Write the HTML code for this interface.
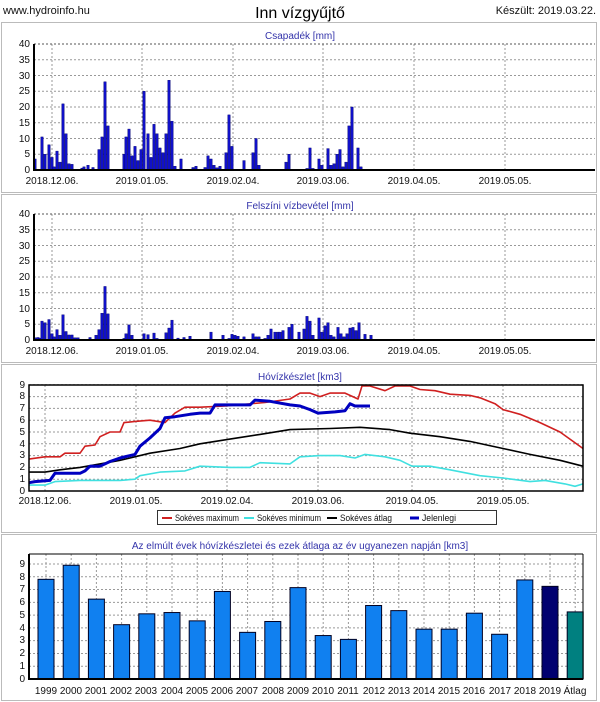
<!DOCTYPE html>
<html><head><meta charset="utf-8"><style>
html,body{margin:0;padding:0;background:#fff;}
svg{display:block;font-family:"Liberation Sans",Arial,sans-serif;}
.t{font-size:10px;fill:#111;}
.l{font-size:9px;fill:#111;}
.ct{font-size:10px;fill:#3333aa;text-anchor:middle;}
.r{text-anchor:end;}
.m{text-anchor:middle;}
</style></head><body>
<svg id="s" width="600" height="702" viewBox="0 0 600 702" xmlns="http://www.w3.org/2000/svg">
<rect width="600" height="702" fill="#fff"/>
<g fill="none" stroke="#bbb"><rect x="1.5" y="22.5" width="595" height="170"/><rect x="1.5" y="194.5" width="595" height="168"/><rect x="1.5" y="364.5" width="595" height="168"/><rect x="1.5" y="534.5" width="595" height="166"/></g>
<text x="3" y="14" style="font-size:11px" fill="#111">www.hydroinfo.hu</text>
<text x="300" y="18" class="m" style="font-size:16px" fill="#000">Inn vízgyűjtő</text>
<text x="596" y="14" class="r" style="font-size:11px" fill="#111">Készült: 2019.03.22.</text>
<text x="300" y="39" class="ct">Csapadék [mm]</text>
<text x="300" y="209" class="ct">Felszíni vízbevétel [mm]</text>
<text x="300" y="380" class="ct">Hóvízkészlet [km3]</text>
<text x="300" y="549" class="ct">Az elmúlt évek hóvízkészletei és ezek átlaga az év ugyanezen napján [km3]</text>
<g id="g"></g>
<g class="t r">
<text x="30" y="173">0</text><text x="30" y="157">5</text><text x="30" y="142">10</text><text x="30" y="126">15</text><text x="30" y="110">20</text><text x="30" y="94">25</text><text x="30" y="79">30</text><text x="30" y="63">35</text><text x="30" y="47">40</text>
<text x="30" y="343">0</text><text x="30" y="327">5</text><text x="30" y="312">10</text><text x="30" y="296">15</text><text x="30" y="280">20</text><text x="30" y="264">25</text><text x="30" y="249">30</text><text x="30" y="233">35</text><text x="30" y="217">40</text>
<text x="25" y="494">0</text><text x="25" y="482">1</text><text x="25" y="470">2</text><text x="25" y="458">3</text><text x="25" y="447">4</text><text x="25" y="435">5</text><text x="25" y="423">6</text><text x="25" y="411">7</text><text x="25" y="399">8</text><text x="25" y="388">9</text>
<text x="25" y="682">0</text><text x="25" y="669">1</text><text x="25" y="656">2</text><text x="25" y="643">3</text><text x="25" y="631">4</text><text x="25" y="618">5</text><text x="25" y="605">6</text><text x="25" y="592">7</text><text x="25" y="580">8</text><text x="25" y="567">9</text>
</g>
<g class="t m">
<text x="52" y="184">2018.12.06.</text><text x="142" y="184">2019.01.05.</text><text x="233" y="184">2019.02.04.</text><text x="323" y="184">2019.03.06.</text><text x="414" y="184">2019.04.05.</text><text x="505" y="184">2019.05.05.</text>
<text x="52" y="354">2018.12.06.</text><text x="142" y="354">2019.01.05.</text><text x="233" y="354">2019.02.04.</text><text x="323" y="354">2019.03.06.</text><text x="414" y="354">2019.04.05.</text><text x="505" y="354">2019.05.05.</text>
<text x="45" y="504">2018.12.06.</text><text x="136" y="504">2019.01.05.</text><text x="227" y="504">2019.02.04.</text><text x="318" y="504">2019.03.06.</text><text x="412" y="504">2019.04.05.</text><text x="503" y="504">2019.05.05.</text>
<text x="46" y="694">1999</text><text x="71" y="694">2000</text><text x="96" y="694">2001</text><text x="121" y="694">2002</text><text x="146" y="694">2003</text><text x="172" y="694">2004</text><text x="197" y="694">2005</text><text x="222" y="694">2006</text><text x="247" y="694">2007</text><text x="273" y="694">2008</text><text x="298" y="694">2009</text><text x="323" y="694">2010</text><text x="348" y="694">2011</text><text x="374" y="694">2012</text><text x="399" y="694">2013</text><text x="424" y="694">2014</text><text x="449" y="694">2015</text><text x="474" y="694">2016</text><text x="500" y="694">2017</text><text x="525" y="694">2018</text><text x="550" y="694">2019</text><text x="575" y="694">Átlag</text>
</g>
<rect x="157.5" y="510.5" width="339" height="14" fill="#fff" stroke="#333"/>
<line x1="162" y1="518" x2="172" y2="518" stroke="#d02020" stroke-width="2"/><text x="175" y="521" class="l" textLength="64" lengthAdjust="spacingAndGlyphs">Sokéves maximum</text>
<line x1="244" y1="518" x2="254" y2="518" stroke="#40e0e0" stroke-width="2"/><text x="257" y="521" class="l" textLength="64" lengthAdjust="spacingAndGlyphs">Sokéves minimum</text>
<line x1="327" y1="518" x2="337" y2="518" stroke="#000" stroke-width="2"/><text x="340" y="521" class="l" textLength="52" lengthAdjust="spacingAndGlyphs">Sokéves átlag</text>
<line x1="410" y1="518" x2="419" y2="518" stroke="#0000c0" stroke-width="3"/><text x="422" y="521" class="l" textLength="34" lengthAdjust="spacingAndGlyphs">Jelenlegi</text>
</svg>
<script>
var g=document.getElementById('g'),NS='http://www.w3.org/2000/svg';
function el(t,a){var e=document.createElementNS(NS,t);for(var k in a)e.setAttribute(k,a[k]);g.appendChild(e);return e;}
function dl(x1,y1,x2,y2){el('line',{x1:x1,y1:y1,x2:x2,y2:y2,stroke:'#999','stroke-dasharray':'2,2','stroke-width':1});}
[[170,44],[340,214]].forEach(function(c){var b=c[0],t=c[1];
 for(var i=1;i<=8;i++){var y=b-i*(b-t)/8;dl(34,y,595,y);}
 [52,142,233,323,414,505].forEach(function(x){dl(x,t,x,b);});
 el('line',{x1:34,y1:t,x2:595,y2:t,stroke:'#555','stroke-dasharray':'2,2'});
});
var p1=[[35,3.5],[42,10.5],[45,5],[49,8],[52,4],[54,1],[57,6],[60,2.5],[63,21],[66,11.5],[69,2],[72,1.8],[82,.6],[84,1],[88,1.5],[93,.8],[99,6.5],[102,10.5],[105,28],[108,14],[124,5],[126,10.5],[129,13],[132,4.5],[135,7.5],[138,3],[141,6.5],[144,25],[148,11.5],[151,4],[154,14.5],[157,11.5],[160,7],[163,5.5],[166,11.5],[169,28.5],[172,15.5],[175,1.2],[181,3.5],[193,.8],[196,1.2],[205,.8],[208,4.5],[211,3.5],[214,1.5],[217,.7],[220,1.2],[226,5.5],[229,17.5],[232,7.5],[244,3],[253,5.5],[256,10],[259,1.5],[286,2.5],[289,5],[307,.5],[310,7],[313,.5],[319,3.5],[322,1.5],[328,6.8],[331,1.5],[334,2],[337,5],[340,6.5],[343,1],[346,2.5],[349,14],[352,20],[358,7],[361,1]];
var p2=[[35,.7],[38,.8],[40,.6],[42,6],[45,5.5],[49,6.5],[52,2],[54,1],[57,3.3],[60,1.5],[63,8],[66,2.7],[69,1.6],[72,1.6],[75,.7],[78,.7],[90,.8],[96,1.5],[99,3.3],[102,8.5],[105,17],[108,8.3],[124,.5],[126,2],[129,4.8],[132,1.5],[144,2],[148,1.7],[154,2.2],[157,.5],[166,2.3],[169,3.8],[172,6.3],[178,.6],[184,.8],[190,1.2],[211,2.5],[223,1.5],[229,.5],[232,1.8],[235,1.5],[238,1.2],[244,1],[253,2],[256,1],[259,1],[265,.5],[268,1.5],[271,3.5],[275,2.5],[278,2.5],[280,2.5],[283,3],[289,4],[292,5],[299,2.5],[304,3.5],[307,7.5],[310,6],[313,1.5],[319,7],[322,2.5],[325,4.5],[328,5.5],[331,1.5],[334,1],[338,4],[341,2],[344,1],[347,2],[350,3.8],[353,4],[356,3],[359,5.5],[365,1.8],[371,1.5]];
[[p1,170],[p2,340]].forEach(function(c){c[0].forEach(function(d){var h=d[1]*3.15;el('rect',{x:d[0]-1.2,y:c[1]-h,width:2.4,height:h,fill:'#1010c8',stroke:'#000070','stroke-width':.4});});
 el('line',{x1:34,y1:44+c[1]-170,x2:34,y2:c[1]+1,stroke:'#000','stroke-width':2});
 el('line',{x1:33,y1:c[1],x2:595,y2:c[1],stroke:'#000','stroke-width':2});});
for(var i=1;i<=9;i++){var y=491-i*11.8;dl(29,y,583,y);}
[45,136,227,318,412,503].forEach(function(x){dl(x,385,x,491);});
function Y(v){return 491-v*11.8;}
function pl(pts,col,w){el('polyline',{points:pts.map(function(p){return p[0]+','+Y(p[1]).toFixed(1);}).join(' '),fill:'none',stroke:col,'stroke-width':w,'stroke-linejoin':'round'});}
pl([[29,.5],[45,.5],[55,.8],[80,.9],[120,.9],[135,1],[140,1.3],[160,1.6],[185,1.7],[200,2.1],[230,2],[250,2],[260,2.4],[290,2.3],[300,2.9],[320,3],[340,3],[355,2.8],[365,3.1],[385,2.9],[400,2.6],[412,2.1],[430,2.1],[450,1.8],[480,1.3],[503,1.1],[530,.8],[545,.9],[565,.6],[575,.4],[583,.6]],'#40e0e0',1.6);
pl([[29,1.6],[45,1.6],[60,1.8],[80,2],[100,2.3],[120,2.6],[150,3.2],[180,3.6],[200,4],[230,4.4],[260,4.8],[290,5.2],[330,5.3],[360,5.4],[390,5.2],[410,4.9],[440,4.6],[470,4.2],[503,3.6],[530,3.1],[560,2.6],[583,2.1]],'#000',1.6);
pl([[29,2.7],[45,2.9],[60,2.9],[65,3.2],[80,3.2],[85,3.8],[95,3.9],[100,4.6],[110,5],[120,5],[124,5.8],[135,5.9],[150,6],[165,5.8],[175,6.6],[185,7.1],[200,7.1],[225,7.2],[265,7.5],[290,7.8],[300,8.3],[310,8.3],[320,8],[330,8.3],[345,8.3],[358,7.8],[362,8.9],[370,8.9],[385,8.5],[395,8.9],[410,8.9],[420,8.6],[435,8.5],[450,8.2],[470,8.1],[480,7.9],[495,7.4],[503,6.9],[520,6.5],[540,5.8],[560,5],[583,3.6]],'#d02020',1.6);
pl([[29,.7],[35,.8],[50,.9],[55,1.5],[80,1.5],[85,1.7],[90,2.1],[100,2.1],[110,2.5],[120,2.8],[135,3.1],[140,3.8],[150,4.5],[160,5.3],[165,6.2],[175,6.3],[190,6.5],[200,6.6],[210,6.6],[215,7.3],[230,7.3],[250,7.3],[255,7.7],[270,7.6],[290,7.3],[300,7.2],[310,6.9],[318,6.6],[335,6.7],[345,6.8],[350,7.4],[355,7.2],[370,7.2]],'#0000c0',3);
el('rect',{x:29,y:385,width:554,height:106,fill:'none',stroke:'#000','stroke-width':1.5});
for(var i=1;i<=9;i++){var y=679-i*12.78;dl(29,y,583,y);}
dl(29,554,583,554);
var v=[7.8,8.9,6.25,4.25,5.1,5.2,4.55,6.85,3.65,4.5,7.15,3.4,3.1,5.75,5.35,3.9,3.9,5.15,3.5,7.75,7.25,5.25];
v.forEach(function(d,i){var x=46+i*25.2;dl(x,554,x,679);});
v.forEach(function(d,i){var x=46+i*25.2,h=d*12.78,c=i==20?'#000070':i==21?'#008080':'#1080f0';el('rect',{x:x-8,y:679-h,width:16,height:h,fill:c,stroke:'#002','stroke-width':1});});
el('line',{x1:29,y1:554,x2:29,y2:680,stroke:'#000','stroke-width':2});
el('line',{x1:28,y1:679,x2:583,y2:679,stroke:'#000','stroke-width':2});
el('line',{x1:583,y1:554,x2:583,y2:679,stroke:'#000','stroke-width':1});
el('line',{x1:29,y1:554,x2:583,y2:554,stroke:'#000','stroke-width':1});
</script>
</body></html>
